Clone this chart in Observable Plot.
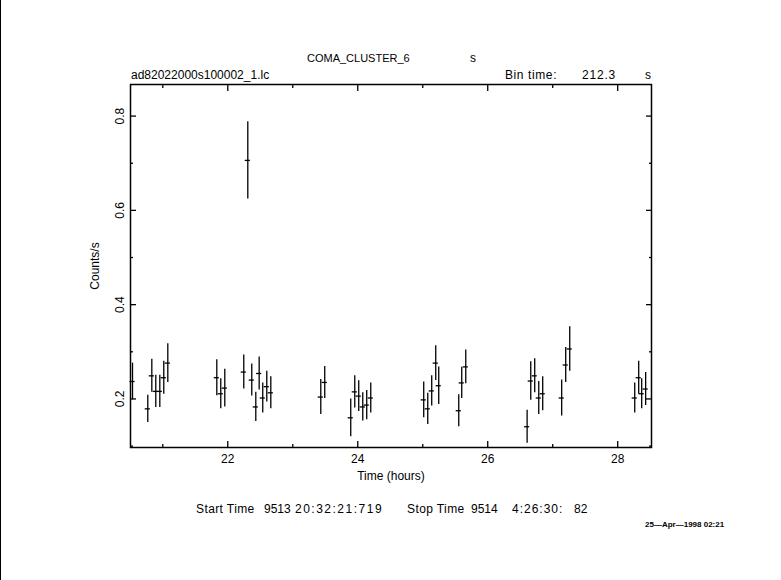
<!DOCTYPE html>
<html><head><meta charset="utf-8">
<script src="https://cdn.jsdelivr.net/npm/d3@7"></script>
<script src="https://cdn.jsdelivr.net/npm/@observablehq/plot@0.6"></script>
<style>
html,body{margin:0;padding:0;background:#fff;}
#wrap{position:relative;width:781px;height:580px;overflow:hidden;font-family:"Liberation Sans",Arial,sans-serif;color:#000;background:#fff;}
#wrap .t{position:absolute;white-space:pre;font-size:12px;line-height:12px;}
#wrap .d{position:absolute;white-space:pre;font-size:8px;line-height:8px;font-weight:bold;}
#edge{position:absolute;left:0;top:0;width:1px;height:580px;background:#000;}
#chart{position:absolute;left:0;top:0;}
</style></head><body>
<div id="wrap">
  <div id="chart"></div>
  <div id="edge"></div>
</div>
<script>
// Light curve: time (hours), rate (counts/s), 1-sigma error
const times = [
  20.534, 20.769, 20.831, 20.892, 20.954, 21.015, 21.077,
  21.831, 21.892, 21.954,
  22.246, 22.308, 22.369, 22.431, 22.483, 22.538, 22.600, 22.662,
  23.431, 23.492,
  23.892, 23.954, 24.015, 24.077, 24.138, 24.200,
  25.015, 25.077, 25.138, 25.200, 25.246,
  25.554, 25.600, 25.662,
  26.606, 26.662, 26.723, 26.785, 26.846,
  27.138, 27.200, 27.262,
  28.262, 28.323, 28.369, 28.430
];
const rates = [
  0.237, 0.179, 0.249, 0.216, 0.216, 0.245, 0.276,
  0.245, 0.211, 0.223,
  0.257, 0.706, 0.240, 0.183, 0.254, 0.202, 0.226, 0.213,
  0.204, 0.235,
  0.160, 0.215, 0.206, 0.183, 0.187, 0.202,
  0.198, 0.179, 0.217, 0.276, 0.228,
  0.175, 0.234, 0.268,
  0.141, 0.238, 0.249, 0.202, 0.211,
  0.202, 0.272, 0.306,
  0.202, 0.245, 0.211, 0.221
];
const errors = [
  0.039, 0.029, 0.035, 0.034, 0.034, 0.035, 0.041,
  0.038, 0.032, 0.040,
  0.036, 0.082, 0.034, 0.031, 0.035, 0.032, 0.0325, 0.034,
  0.037, 0.034,
  0.040, 0.034, 0.0325, 0.030, 0.031, 0.032,
  0.038, 0.033, 0.032, 0.037, 0.040,
  0.034, 0.033, 0.036,
  0.035, 0.041, 0.036, 0.035, 0.036,
  0.038, 0.037, 0.047,
  0.032, 0.035, 0.032, 0.035
];
const binTimeSec = 212.3;
const xTicksMajor = [22, 24, 26, 28];
const xTicksMinor = [21, 23, 25, 27];
const yTicksMajor = [0.2, 0.4, 0.6, 0.8];
const yTicksMinor = [0.1, 0.3, 0.5, 0.7];
const xDomain = [20.503, 28.52];
const yDomain = [0.097, 0.867];

const titleText = "COMA_CLUSTER_6";
const titleUnit = "s";
const fileText = "ad82022000s100002_1.lc";
const binLabel = "Bin time:";
const binValue = "212.3";
const binUnit = "s";
const xLabel = "Time (hours)";
const yLabel = "Counts/s";
const footerPieces = ["Start Time", "9513", "20:32:21:719", "Stop Time", "9514", "4:26:30:", "82"];
const footerX = [196, 264, 295, 407, 471, 512, 574];
const footerSpacing = [0.4, 0, 1.5, 0.4, 0, 1, 0];
const dateText = "25\u2014Apr\u20141998 02:21";

const half = binTimeSec / 3600 / 2;
const data = times.map((t, i) => ({t, r: rates[i], e: errors[i]}));

const chart = Plot.plot({
  width: 781,
  height: 580,
  marginLeft: 130,
  marginRight: 130,
  marginTop: 84,
  marginBottom: 133,
  style: {fontFamily: "'Liberation Sans', Arial, sans-serif", fontSize: "12px", background: "transparent", color: "#000"},
  x: {domain: xDomain},
  y: {domain: yDomain},
  marks: [
    Plot.frame({stroke: "#000", strokeWidth: 1.5}),
    // inward ticks on all four sides
    Plot.axisX(xTicksMajor, {anchor: "bottom", tickSize: 6, dy: -6, fill: "none", strokeWidth: 1.3}),
    Plot.axisX(xTicksMinor, {anchor: "bottom", tickSize: 3, dy: -3, fill: "none", strokeWidth: 1.3}),
    Plot.axisX(xTicksMajor, {anchor: "top", tickSize: 6, dy: 6, fill: "none", strokeWidth: 1.3}),
    Plot.axisX(xTicksMinor, {anchor: "top", tickSize: 3, dy: 3, fill: "none", strokeWidth: 1.3}),
    Plot.axisY(yTicksMajor, {anchor: "left", tickSize: 6, dx: 6, fill: "none", strokeWidth: 1.3}),
    Plot.axisY(yTicksMinor, {anchor: "left", tickSize: 3, dx: 3, fill: "none", strokeWidth: 1.3}),
    Plot.axisY(yTicksMajor, {anchor: "right", tickSize: 6, dx: -6, fill: "none", strokeWidth: 1.3}),
    Plot.axisY(yTicksMinor, {anchor: "right", tickSize: 3, dx: -3, fill: "none", strokeWidth: 1.3}),
    // tick labels
    Plot.axisX(xTicksMajor, {anchor: "bottom", tickSize: 0, tickPadding: 7, label: null, tickFormat: d => String(d), fill: "#000"}),
    Plot.axisY(yTicksMajor, {anchor: "left", tickSize: 0, tickPadding: 7, tickRotate: -90, label: null, tickFormat: d => d.toFixed(1), fill: "#000"}),
    // axis titles
    Plot.text([xLabel], {frameAnchor: "bottom", dy: 24, lineAnchor: "top", text: d => d, fill: "#000", fontSize: 12}),
    Plot.text([yLabel], {frameAnchor: "left", dx: -35, rotate: -90, lineAnchor: "middle", textAnchor: "middle", text: d => d, fill: "#000", fontSize: 12}),
    // error bars
    Plot.ruleX(data, {x: "t", y1: d => d.r - d.e, y2: d => d.r + d.e, stroke: "#000", strokeWidth: 1.3}),
    Plot.ruleY(data, {y: "r", x1: d => d.t - half, x2: d => d.t + half, stroke: "#000", strokeWidth: 1.3, strokeLinecap: "square"})
  ]
});
document.getElementById("chart").appendChild(chart);

const wrap = document.getElementById("wrap");
function addText(txt, left, baseline, cls, size, spacing) {
  const el = document.createElement("div");
  el.className = cls || "t";
  el.textContent = txt;
  if (size) { el.style.fontSize = size + "px"; el.style.lineHeight = size + "px"; }
  if (spacing) el.style.letterSpacing = spacing + "px";
  const s = size || (cls === "d" ? 8 : 12);
  el.style.left = left + "px";
  el.style.top = (baseline - s * 0.85) + "px";
  wrap.appendChild(el);
}
addText(titleText, 307, 62, "t", 11);
addText(titleUnit, 470, 62);
addText(fileText, 131, 79);
addText(binLabel, 505, 79, "t", 12, 0.6);
addText(binValue, 582, 79, "t", 12, 0.8);
addText(binUnit, 645, 79);
footerPieces.forEach((p, i) => addText(p, footerX[i], 513, "t", 12, footerSpacing[i]));
addText(dateText, 645, 528, "d");
</script>
</body></html>
